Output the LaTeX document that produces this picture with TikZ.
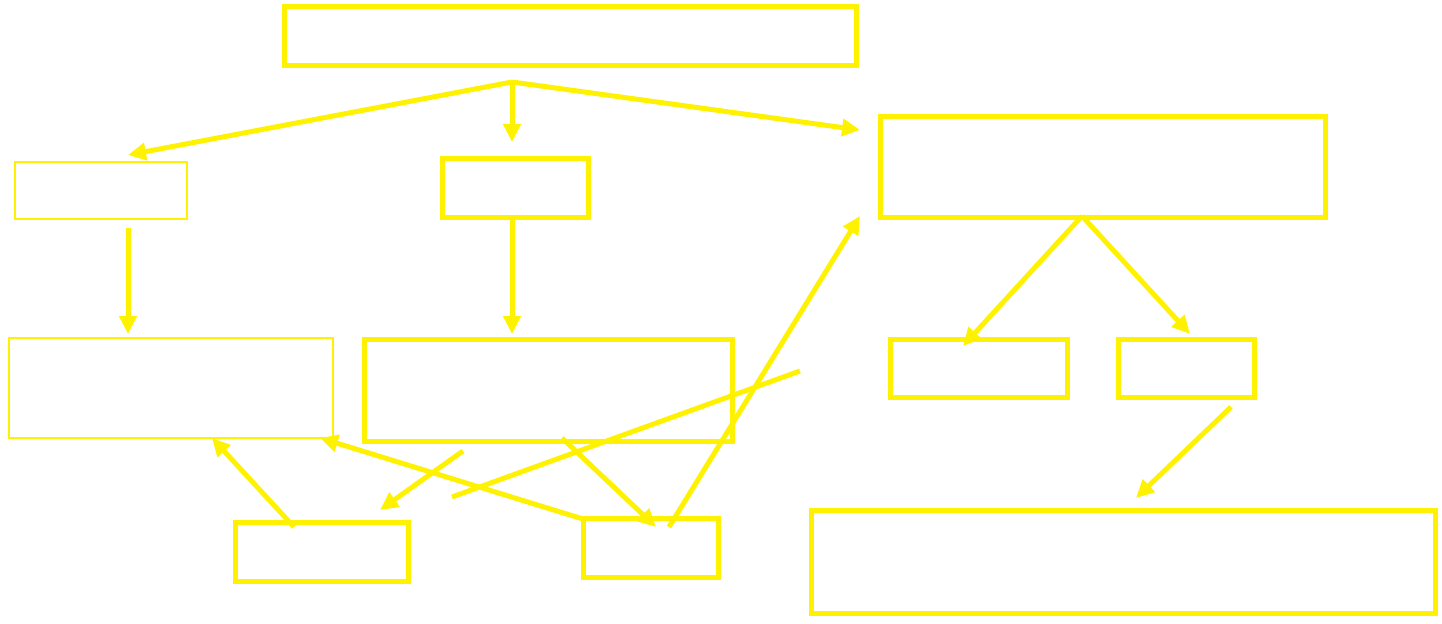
\documentclass[tikz,border=0pt]{standalone}
\usetikzlibrary{arrows.meta}
\begin{document}
\begin{tikzpicture}[x=0.02cm, y=-0.02cm, line join=miter, >={Triangle[length=0.36cm, width=0.34cm]},
	hop/.style={draw=yellow, line width=0.1cm, inner sep=0pt, outer sep=0pt},
	hopmanh/.style={hop, line width=0.04cm},
	mui/.style={->, yellow, line width=0.1cm}]
		
		% Khung hình
		\useasboundingbox (0,0) rectangle (1442,624);
		
		% Các hộp hàng trên
		\node[hop, minimum width=11.44cm, minimum height=1.18cm] (HTren) at (570.5,36) {};
		\node[hopmanh, minimum width=3.44cm, minimum height=1.14cm] (HTrai) at (101,190.5) {};
		\node[hop, minimum width=2.94cm, minimum height=1.2cm] (HGiua) at (515.5,188) {};
		\node[hop, minimum width=8.92cm, minimum height=2.04cm] (HPhai) at (1103,167) {};
		
		% Các hộp hàng giữa
		\node[hopmanh, minimum width=6.48cm, minimum height=2cm] (HTrai2) at (171,388) {};
		\node[hop, minimum width=7.38cm, minimum height=2.06cm] (HGiua2) at (548.5,390.5) {};
		\node[hop, minimum width=3.54cm, minimum height=1.18cm] (HPhai1) at (978.5,368.5) {};
		\node[hop, minimum width=2.72cm, minimum height=1.18cm] (HPhai2) at (1186,368.5) {};
		
		% Các hộp hàng dưới
		\node[hop, minimum width=3.48cm, minimum height=1.2cm] (HDuoi1) at (322,552) {};
		\node[hop, minimum width=2.72cm, minimum height=1.2cm] (HDuoi2) at (651,548) {};
		\node[hop, minimum width=12.5cm, minimum height=2.08cm] (HDuoi3) at (1123.5,562) {};
		
		% Các điểm đầu mút của mũi tên
		\coordinate (T) at (512,82);
		\coordinate (A1) at (128,155);
		\coordinate (A2) at (512,142);
		\coordinate (A3) at (860,130);
		\coordinate (B1) at (128,228);
		\coordinate (B2) at (128,334);
		\coordinate (C1) at (512,216);
		\coordinate (C2) at (512,334);
		\coordinate (P) at (1082,216);
		\coordinate (P1) at (963,346);
		\coordinate (P2) at (1190,334);
		\coordinate (Q1) at (1231,407);
		\coordinate (Q2) at (1136,498);
		\coordinate (D1) at (294,527);
		\coordinate (D2) at (212,438);
		\coordinate (E1) at (583,519);
		\coordinate (E2) at (320,438);
		\coordinate (F1) at (463,451);
		\coordinate (F2) at (380,510);
		\coordinate (G1) at (452,497);
		\coordinate (G2) at (800,371);
		\coordinate (K1) at (562,438);
		\coordinate (K2) at (656,527);
		\coordinate (M1) at (669,527);
		\coordinate (M2) at (860,216);
		
		% Mũi tên từ hộp trên cùng
		\draw[mui] (T) -- (A1);
		\draw[mui] (T) -- (A2);
		\draw[mui] (T) -- (A3);
		
		% Mũi tên đi xuống
		\draw[mui] (B1) -- (B2);
		\draw[mui] (C1) -- (C2);
		\draw[mui] (P) -- (P1);
		\draw[mui] (P) -- (P2);
		\draw[mui] (Q1) -- (Q2);
		
		% Các mũi tên chéo phía dưới
		\draw[mui] (D1) -- (D2);
		\draw[mui] (E1) -- (E2);
		\draw[mui] (F1) -- (F2);
		\draw[yellow, line width=0.1cm] (G1) -- (G2);
		\draw[mui] (K1) -- (K2);
		\draw[mui] (M1) -- (M2);
		
\end{tikzpicture}
\end{document}
